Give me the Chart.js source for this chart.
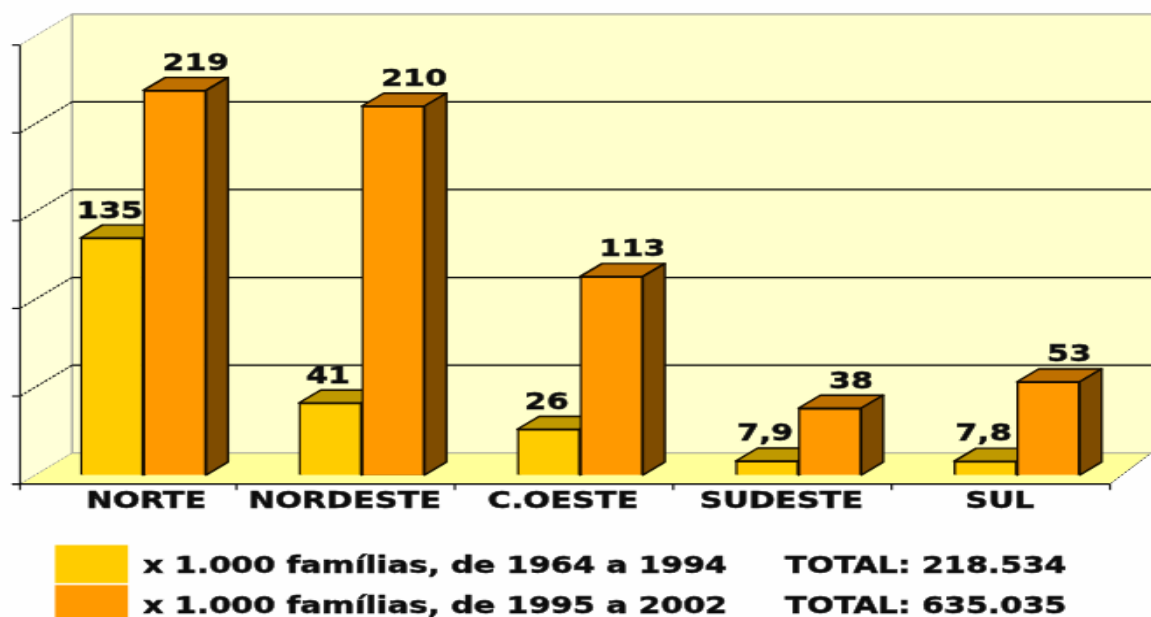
<!DOCTYPE html>
<html><head><meta charset="utf-8">
<style>html,body{margin:0;padding:0;background:#fefefe;overflow:hidden;width:1151px;height:617px}
#c{position:absolute;left:0;top:0;transform-origin:0 0}</style>
<script src="https://cdn.jsdelivr.net/npm/chart.js@4"></script></head>
<body><canvas id="c" width="658" height="475"></canvas>
<script>
const categories = ['NORTE','NORDESTE','C.OESTE','SUDESTE','SUL'];
const series1964 = [135,41,26,7.9,7.8];
const series1995 = [219,210,113,38,53];
const legendLabels = ['x 1.000 famílias, de 1964 a 1994','x 1.000 famílias, de 1995 a 2002'];
const legendTotals = ['TOTAL: 218.534','TOTAL: 635.035'];
const yTicks = [0,50,100,150,200,250];

const W=658,H=475,SX=1151/W,SY=617/H;
const cv=document.getElementById('c');
cv.style.width=W+'px';cv.style.height=H+'px';
cv.style.transform=`scale(${SX},${SY})`;
const X=v=>v/SX,Y=v=>v/SY;
const SIZE=18.2;
const FONT=`bold ${SIZE}px "DejaVu Sans"`;
const INK='#0c0c0c';
const DX=X(22),DY=Y(13);
const poly=(c,pts,fill)=>{c.beginPath();pts.forEach((p,i)=>i?c.lineTo(p[0],p[1]):c.moveTo(p[0],p[1]));c.closePath();if(fill){c.fillStyle=fill;c.fill();}};
const line=(c,a,b,d,e,col,w,dash)=>{c.save();c.strokeStyle=col;c.lineWidth=w||1;if(dash)c.setLineDash(dash);c.beginPath();c.moveTo(a,b);c.lineTo(d,e);c.stroke();c.restore();};
const text=(c,s,x,y)=>{c.fillText(s,x,y);c.strokeText(s,x,y);};

const scene={id:'scene',
 beforeDraw(ch){
  const c=ch.ctx,ys=ch.scales.y,xs=ch.scales.x;
  const fx=xs.left-X(14),bx=xs.left+X(38),rx=xs.right-X(16),wx=W;
  const backY=v=>ys.getPixelForValue(v)-Y(22),frontY=v=>ys.getPixelForValue(v)+Y(9);
  c.save();
  c.fillStyle='#fefefe';c.fillRect(0,0,W,H);
  poly(c,[[bx,backY(250)],[wx,backY(250)],[wx,backY(0)],[bx,backY(0)]],'#ffffcc');
  poly(c,[[fx,frontY(250)],[bx,backY(250)],[bx,backY(0)],[fx,frontY(0)]],'#ffffd8');
  poly(c,[[fx,frontY(0)],[bx,backY(0)],[wx,backY(0)],[rx+X(41),backY(0)],[rx,frontY(0)]],'#ffff99');
  const grey='#a0a098';
  line(c,bx,backY(250),wx,backY(250),grey,1.2);
  line(c,bx,backY(250),bx,backY(0),grey,1.2);
  line(c,bx,backY(0),wx,backY(0),grey,1.2);
  line(c,fx,frontY(250),bx,backY(250),grey,1,[2,1]);
  line(c,fx,frontY(0),bx,backY(0),grey,1,[2,1]);
  line(c,rx,frontY(0),rx+X(41),backY(0),'#444',1,[2,1]);
  yTicks.forEach(v=>{
   if(v>0&&v<250){line(c,bx,backY(v),wx,backY(v),'#000',1.2);
    line(c,fx,frontY(v),bx,backY(v),'#111',1.1,[2,1]);}
   line(c,fx-X(8),frontY(v),fx,frontY(v),'#111',1.2);
  });
  line(c,fx,frontY(250),fx,frontY(0)+Y(6),'#222',1.2);
  line(c,fx-X(8),frontY(0),rx,frontY(0),'#000',1.2);
  const half=(xs.getPixelForValue(1)-xs.getPixelForValue(0))/2;
  categories.forEach((_,i)=>{const t=xs.getPixelForValue(i)+half-X(16);
    line(c,t,frontY(0),t,frontY(0)+Y(6),'#111',1.2);});
  // legend
  c.font=FONT;c.textBaseline='middle';c.strokeStyle=INK;c.lineWidth=0.45;
  [['#ffcc00',545],['#ff9900',585]].forEach(([col,y],i)=>{
    c.fillStyle=col;c.fillRect(X(55),Y(y),X(73),Y(38));
    c.fillStyle=INK;c.textAlign='left';
    text(c,legendLabels[i],X(143),Y(y+22));
    text(c,legendTotals[i],X(785),Y(y+22));
  });
  c.restore();
 },
 beforeDatasetsDraw(ch){
  const c=ch.ctx;
  c.save();c.strokeStyle='#140c00';c.lineWidth=1.4;c.lineJoin='round';
  const tops=['#bf9900','#bf7000'],sides=['#7f6600','#7f4c00'];
  ch.data.datasets.forEach((ds,di)=>{
   ch.getDatasetMeta(di).data.forEach(b=>{
    const l=b.x-b.width/2,r=b.x+b.width/2,t=b.y,base=b.base;
    poly(c,[[l,t],[l+DX,t-DY],[r+DX,t-DY],[r,t]],tops[di]);c.stroke();
    poly(c,[[r,t],[r+DX,t-DY],[r+DX,base-DY],[r,base]],sides[di]);c.stroke();
   });
  });
  c.restore();
 },
 afterDatasetsDraw(ch){
  const c=ch.ctx;
  c.save();c.font=FONT;c.fillStyle=INK;c.strokeStyle=INK;c.lineWidth=0.45;c.textAlign='center';c.textBaseline='middle';
  const off=[X(-2),X(21)];
  ch.data.datasets.forEach((ds,di)=>{
   ch.getDatasetMeta(di).data.forEach((b,i)=>{
    text(c,String(ds.data[i]).replace('.',','),b.x+off[di],b.y-Y(26.5));
   });
  });
  c.restore();
 }
};

new Chart(cv,{
 type:'bar',
 data:{labels:categories,datasets:[
  {label:legendLabels[0],data:series1964,backgroundColor:'#ffcc00',borderColor:'#140c00',borderWidth:1.4},
  {label:legendLabels[1],data:series1995,backgroundColor:'#ff9900',borderColor:'#140c00',borderWidth:1.4}]},
 options:{responsive:false,animation:false,devicePixelRatio:1,
  layout:{padding:{left:X(34),right:W-X(1126),top:Y(36),bottom:0}},
  plugins:{legend:{display:false},tooltip:{enabled:false}},
  datasets:{bar:{barThickness:X(62.8)}},
  scales:{
   x:{grid:{display:false},border:{display:false},
      ticks:{font:{family:'DejaVu Sans',weight:'bold',size:SIZE},color:INK,textStrokeColor:INK,textStrokeWidth:0.45,padding:1.5,labelOffset:-X(17),maxRotation:0,autoSkip:false},
      afterFit(s){s.height=H-Y(475);
        const base=s.getPixelForTick.bind(s);
        s.getPixelForTick=i=>base(i)+(i===0?X(20):0);}},
   y:{display:false,min:0,max:250}
  }},
 plugins:[scene]
});
</script></body></html>
